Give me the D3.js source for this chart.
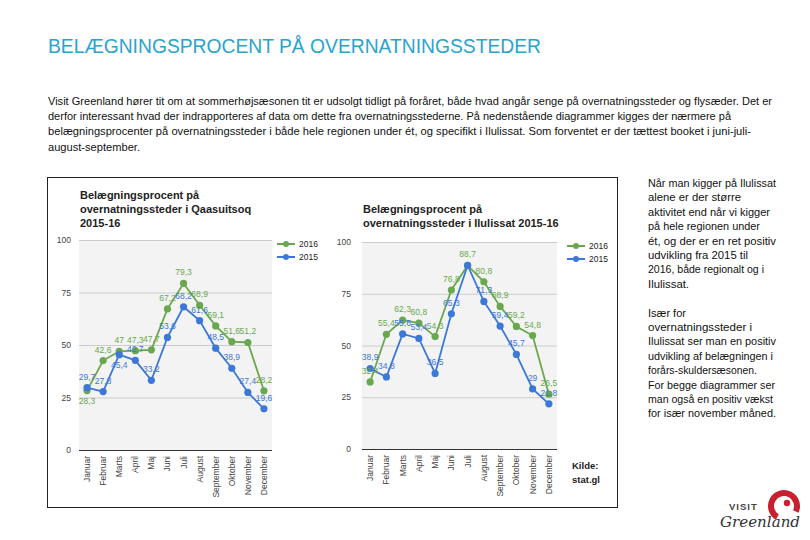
<!DOCTYPE html>
<html><head><meta charset="utf-8">
<script src="https://cdn.jsdelivr.net/npm/d3@7"></script>
<style>
body{margin:0;background:#fff;}
svg{display:block;}
</style></head>
<body>
<svg id="c" width="810" height="540"></svg>
<script>
const months = ["Januar","Februar","Marts","April","Maj","Juni","Juli","August","September","Oktober","November","December"];
const series = ["2016","2015"];
const qaasuitsoq2016 = [28.3,42.6,47,47.3,47.7,67.2,79.3,68.9,59.1,51.6,51.2,28.2];
const qaasuitsoq2015 = [29.7,27.8,45.4,42.7,33.2,53.6,68.2,61.6,48.5,38.9,27.4,19.6];
const ilulissat2016 = [32.4,55.4,62.3,60.8,54.3,76.8,88.7,80.8,68.9,59.2,54.8,26.5];
const ilulissat2015 = [38.9,34.8,55.6,53.4,36.5,65.3,88.7,71.3,59.4,45.7,29,21.8];
const yTicks = [0,25,50,75,100];
const heading = "BELÆGNINGSPROCENT PÅ OVERNATNINGSSTEDER";
const paragraph = [
 "Visit Greenland hører tit om at sommerhøjsæsonen tit er udsolgt tidligt på foråret, både hvad angår senge på overnatningssteder og flysæder. Det er",
 "derfor interessant hvad der indrapporteres af data om dette fra overnatningsstederne. På nedenstående diagrammer kigges der nærmere på",
 "belægningsprocenter på overnatningssteder i både hele regionen under ét, og specifikt i Ilulissat. Som forventet er der tættest booket i juni-juli-",
 "august-september."
];
const sideText = [
 "Når man kigger på Ilulissat","alene er der større","aktivitet end når vi kigger","på hele regionen under",
 "ét, og der er en ret positiv","udvikling fra 2015 til","2016, både regionalt og i","Ilulissat.","",
 "Især for","overnatningssteder i","Ilulissat ser man en positiv","udvikling af belægningen i",
 "forårs-skuldersæsonen.","For begge diagrammer ser","man også en positiv vækst","for især november måned."
];
const charts = [
 {title:["Belægningsprocent på","overnatningssteder i Qaasuitsoq","2015-16"], data:[qaasuitsoq2016,qaasuitsoq2015]},
 {title:["Belægningsprocent på","overnatningssteder i Ilulissat 2015-16"], data:[ilulissat2016,ilulissat2015]}
];
const source = ["Kilde:","stat.gl"];

const colors = ["#6aa84f","#3c78d8"];
const svg = d3.select("#c");
const textFont = "'Liberation Sans',Arial,sans-serif";

svg.append("text").attr("x",48).attr("y",53).attr("fill","#2aa3cd")
  .attr("font-family",textFont).attr("font-size",20)
  .attr("textLength",493).attr("lengthAdjust","spacingAndGlyphs").text(heading);

const paraEnds = [772,731,751,140];
paragraph.forEach((t,i)=>{
  svg.append("text").attr("x",48).attr("y",105+i*15.2).attr("fill","#111")
    .attr("font-family",textFont).attr("font-size",11.5)
    .attr("textLength",paraEnds[i]-48).attr("lengthAdjust","spacingAndGlyphs").text(t);
});

const sideEnds = [776,741,770,760,776,748,764,689,0,686,752,776,773,757,775,773,776];
sideText.forEach((t,i)=>{
  if(!t) return;
  svg.append("text").attr("x",648).attr("y",187+i*14.4).attr("fill","#111")
    .attr("font-family",textFont).attr("font-size",11.5)
    .attr("textLength",sideEnds[i]-648).attr("lengthAdjust","spacingAndGlyphs").text(t);
});

svg.append("rect").attr("x",47.5).attr("y",177.5).attr("width",570).attr("height",330)
  .attr("fill","none").attr("stroke","#222").attr("stroke-width",1);

const layouts = [
 {x0:79,x1:272,y0:450,y1:240,ylab:71,legX:277,legY:[244,257],titleY:199},
 {x0:362,x1:557,y0:449,y1:242,ylab:351,legX:567,legY:[246,259],titleY:213}
];
const chartFont = "'Liberation Sans',Arial,sans-serif";

charts.forEach((ch,ci)=>{
  const L = layouts[ci];
  const g = svg.append("g");
  const x = d3.scalePoint().domain(months).range([L.x0,L.x1]).padding(0.5);
  const y = d3.scaleLinear().domain([0,100]).range([L.y0,L.y1]);
  g.append("rect").attr("x",L.x0).attr("y",L.y1).attr("width",L.x1-L.x0).attr("height",L.y0-L.y1).attr("fill","#f3f3f3");
  g.selectAll(".grid").data(yTicks.filter(d=>d>0)).join("line")
    .attr("x1",L.x0).attr("x2",L.x1).attr("y1",d=>y(d)+0.5).attr("y2",d=>y(d)+0.5)
    .attr("stroke","#cccccc").attr("stroke-width",1);
  g.append("line").attr("x1",L.x0).attr("x2",L.x1).attr("y1",y(0)+0.5).attr("y2",y(0)+0.5).attr("stroke","#333");
  g.selectAll(".yl").data(yTicks).join("text")
    .attr("x",L.ylab).attr("y",d=>y(d)+3).attr("text-anchor","end")
    .attr("font-family",chartFont).attr("font-size",8.5).attr("fill","#444").text(d=>d);
  g.selectAll(".xl").data(months).join("text")
    .attr("transform",d=>`translate(${x(d)+3},${L.y0+6}) rotate(-90)`)
    .attr("text-anchor","end").attr("font-family",chartFont).attr("font-size",8.5).attr("fill","#444").text(d=>d);
  ch.title.forEach((t,i)=>{
    g.append("text").attr("x",L.x0+1).attr("y",L.titleY+i*14).attr("font-family",chartFont)
      .attr("font-weight","bold").attr("font-size",11).attr("fill","#222").text(t);
  });
  series.forEach((s,si)=>{
    const ly = L.legY[si];
    g.append("line").attr("x1",L.legX).attr("x2",L.legX+18).attr("y1",ly).attr("y2",ly).attr("stroke",colors[si]).attr("stroke-width",2);
    g.append("circle").attr("cx",L.legX+9).attr("cy",ly).attr("r",3).attr("fill",colors[si]);
    g.append("text").attr("x",L.legX+22).attr("y",ly+3).attr("font-family",chartFont).attr("font-size",8.5).attr("fill","#222").text(s);
  });
  const line = d3.line().x((d,i)=>x(months[i])).y(d=>y(d));
  ch.data.forEach((vals,si)=>{
    g.append("path").attr("d",line(vals)).attr("fill","none").attr("stroke",colors[si]).attr("stroke-width",1.8);
    g.selectAll(null).data(vals).join("circle").attr("cx",(d,i)=>x(months[i])).attr("cy",d=>y(d)).attr("r",3.6).attr("fill",colors[si]);
  });
  // labels: above the point; if the two series' labels would collide, the lower one goes below its point
  ch.data.forEach((vals,si)=>{
    const other = ch.data[1-si];
    g.selectAll(null).data(vals.map((v,i)=>({v,i}))).join("text")
      .filter(d=> !(si===1 && other[d.i]===d.v))
      .attr("x",d=>x(months[d.i]))
      .attr("y",d=>{
        const o = other[d.i];
        const clash = Math.abs(y(d.v)-y(o))<9 && d.v<o;
        return clash ? y(d.v)+13 : y(d.v)-8;
      })
      .attr("text-anchor","middle")
      .attr("font-family",chartFont).attr("font-size",8.5).attr("fill",colors[si])
      .text(d=>String(d.v).replace(".",","));
  });
});

source.forEach((t,i)=>{
  svg.append("text").attr("x",572).attr("y",469+i*14).attr("font-family",chartFont)
    .attr("font-weight","bold").attr("font-size",9.5).attr("fill","#222").text(t);
});

const logo = svg.append("g");
logo.append("path").attr("d",d3.arc().innerRadius(10).outerRadius(16).startAngle(-2.6).endAngle(2.0)())
  .attr("transform","translate(784,506)").attr("fill","#c8202f");
logo.append("circle").attr("cx",787).attr("cy",503).attr("r",3.2).attr("fill","#c8202f");
logo.append("text").attr("x",729).attr("y",510).attr("font-family",chartFont).attr("font-weight","bold")
  .attr("font-size",9.5).attr("letter-spacing",1).attr("fill","#444").text("VISIT");
logo.append("text").attr("x",720).attr("y",527).attr("font-family","'DejaVu Serif',serif").attr("font-style","italic")
  .attr("font-size",15).attr("fill","#333").attr("textLength",80).attr("lengthAdjust","spacingAndGlyphs").text("Greenland");
</script>
</body></html>
